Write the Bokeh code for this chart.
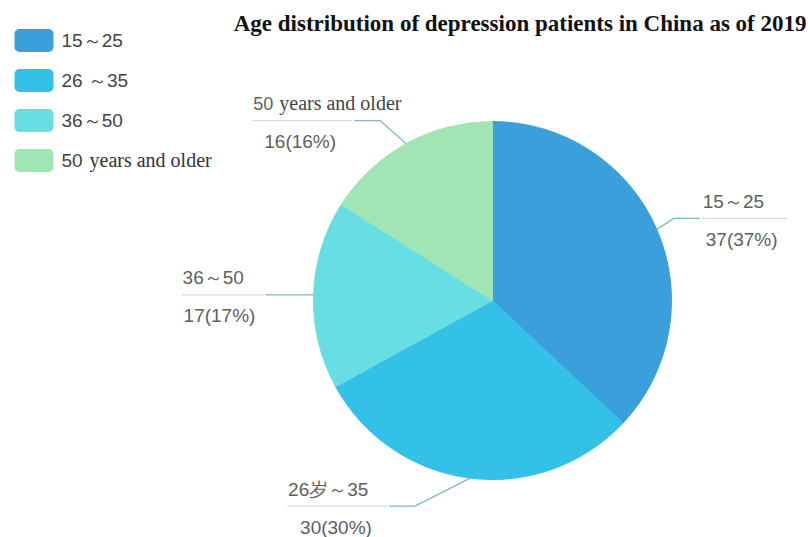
import math
from bokeh.plotting import figure
from bokeh.models import Range1d, BoxAnnotation
from bokeh.core.properties import value
from bokeh.embed import file_html
from bokeh.resources import INLINE

# ---------------- data ----------------
age_groups = ["15～25", "26～35", "36～50", "50 years and older"]
legend_labels = ["15～25", "26   ～35", "36～50", "50 years and older"]
slice_labels = ["15～25", "26岁～35", "36～50", "50 years and older"]
patients = [37, 30, 17, 16]
title_text = "Age distribution of depression patients in China as of 2019"

# ---------------- style / layout ----------------
colors = ["#3a9fda", "#34c1e7", "#67dfe2", "#a2e5b5"]
W, H = 808, 537
CX, CY_PX, R = 492, 300, 179
elbow_off = [(17, -11), (-55, 28), (-22, 0), (-26, -23)]   # screen px offsets
L2 = 26
hr_w = [85, 100, 82, 100]
bottom_indent = [4, 13, 2, 12]
SANS = "Liberation Sans"
SERIF = "Liberation Serif"
LABEL_COLOR = "#606060"


def Y(py):
    return H - py


p = figure(width=W, height=H, x_range=Range1d(0, W), y_range=Range1d(0, H),
           output_backend="svg", toolbar_location=None, min_border=0,
           x_axis_location=None, y_axis_location=None)
p.grid.visible = False
p.outline_line_color = None
p.background_fill_color = "white"
p.border_fill_color = "white"

total = sum(patients)
fracs = [v / total for v in patients]
cum = [0.0]
for f in fracs:
    cum.append(cum[-1] + f)
starts = [math.pi / 2 - 2 * math.pi * c for c in cum[:-1]]
ends = [math.pi / 2 - 2 * math.pi * c for c in cum[1:]]

p.wedge(x=[CX] * 4, y=[Y(CY_PX)] * 4, radius=R, start_angle=starts, end_angle=ends,
        direction="clock", fill_color=colors, line_color=colors, line_width=1)

# ---------------- leader lines & labels ----------------
for i, v in enumerate(patients):
    th = 2 * math.pi * (cum[i] + fracs[i] / 2)
    ex, ey = CX + R * math.sin(th), CY_PX - R * math.cos(th)
    bx, by = ex + elbow_off[i][0], ey + elbow_off[i][1]
    side = 1 if bx > CX else -1
    hx = bx + side * L2
    p.line([ex, bx, hx], [Y(ey), Y(by), Y(by)], line_color="#6fb3c0", line_width=1.3,
           line_alpha=0.9)
    hr_left = hx + 2 if side > 0 else hx - 2 - hr_w[i]
    p.line([hr_left, hr_left + hr_w[i]], [Y(by), Y(by)], line_color="#d4d4d4", line_width=1)
    top = slice_labels[i]
    if top.startswith("50 "):
        p.text(x=[hr_left + 1], y=[Y(by - 17)], text=["50"], text_font=value(SANS),
               text_font_size="18px", text_color=LABEL_COLOR, text_baseline="middle")
        p.text(x=[hr_left + 27], y=[Y(by - 18)], text=[top[3:]], text_font=value(SERIF),
               text_font_size="20px", text_color="#444444", text_baseline="middle")
    else:
        p.text(x=[hr_left + 1], y=[Y(by - 17)], text=[top], text_font=value(SANS),
               text_font_size="19px", text_color=LABEL_COLOR, text_baseline="middle")
    pct = round(100 * fracs[i])
    p.text(x=[hr_left + bottom_indent[i]], y=[Y(by + 21)], text=[f"{v}({pct}%)"],
           text_font=value(SANS), text_font_size="19px", text_color=LABEL_COLOR,
           text_baseline="middle")

# ---------------- legend ----------------
for i, lab in enumerate(legend_labels):
    cy = 40 + 40 * i
    p.add_layout(BoxAnnotation(left=14, right=53, bottom=Y(cy + 11.5), top=Y(cy - 11.5),
                               fill_color=colors[i], fill_alpha=1.0, line_color=None,
                               border_radius=5))
    if lab.startswith("50 "):
        p.text(x=[61], y=[Y(cy)], text=["50"], text_font=value(SANS), text_font_size="19px",
               text_color="#444444", text_baseline="middle")
        p.text(x=[89], y=[Y(cy - 1)], text=[lab[3:]], text_font=value(SERIF),
               text_font_size="20px", text_color="#333333", text_baseline="middle")
    else:
        p.text(x=[61], y=[Y(cy)], text=[lab], text_font=value(SANS), text_font_size="19px",
               text_color="#444444", text_baseline="middle")

# ---------------- title ----------------
p.text(x=[806], y=[Y(23)], text=[title_text], text_font=value(SERIF),
       text_font_style="bold", text_font_size="23px", text_color="#111111",
       text_align="right", text_baseline="middle")

open("out.html", "w").write(file_html(p, INLINE))
